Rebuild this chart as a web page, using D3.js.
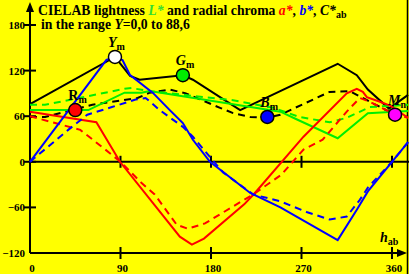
<!DOCTYPE html>
<html>
<head>
<meta charset="utf-8">
<script src="https://cdn.jsdelivr.net/npm/d3@7"></script>
<style>
  html, body { margin: 0; padding: 0; background: #ffff00; }
  svg { display: block; }
  text { font-family: 'Liberation Serif', 'Times New Roman', serif; font-weight: bold; }
</style>
</head>
<body>
<div id="chart"></div>
<script>
// hue angles h_ab and values
const cabSolid = [[0,76],[84.5,138],[99.5,113],[109,108],[152,114],[162,108],[209,68],[306,129],[325,114],[336,95],[357,70],[376,88]];
const cabDashed = [[0,59],[15,59],[62,75],[107,84],[119,91],[139,95],[155,90],[189,71],[202,64],[219,59],[236,58],[249,62],[298,92],[318,93],[338,79],[363,62],[376,60]];
const lSolid = [[0,68],[58,68],[94,91],[111,91],[119,93],[249,66],[265,56],[306,31],[336,64],[376,67]];
const lDashed = [[0,75],[15,75],[94,96],[101,97],[119,93],[202,81],[242,71],[268,59],[298,52],[315,58],[338,72],[376,75]];
const aSolid = [[0,66],[66,52],[89.5,0],[149,-98.5],[161,-109],[173,-101],[213,-56],[223,-42],[272,33],[315,90],[325,96],[331,92],[335,85],[348,79],[358,74],[376,58]];
const aDashed = [[0,60],[25,51],[50,42],[75,16],[90,0],[111,-28],[124,-43],[146,-83],[157,-88],[174,-81],[223,-42],[250,-17],[272,16],[291,29],[315,66],[328,84],[338,79],[363,62],[376,58]];
const bSolid = [[0,0],[76,134],[84.5,138],[92,134],[99.5,114],[122,91],[139,68],[152,51],[162,29],[179,0],[219,-41],[249,-60],[306,-103],[325,-63],[336,-39],[360,0],[376,26]];
const bDashed = [[0,0],[38,42],[57,62],[81.5,72],[105,82],[115,84],[129,68],[152,46],[162,33],[183,0],[192,-14],[222,-43],[249,-52],[275,-66],[298,-76],[315,-72],[328,-50],[336,-34],[360,0],[376,26]];

const markerHue = [45, 84.5, 152, 236, 363];
const markerVal = [68, 138, 114, 59, 62];
const markerFill = ['#ff0000', '#ffffff', '#00ee00', '#0000ff', '#ff00ff'];
const markerName = ['R', 'Y', 'G', 'B', 'M'];
const markerSub = ['m', 'm', 'm', 'm', 'n'];

const xTicks = [0, 90, 180, 270, 360];
const yTicks = [-120, -60, 0, 60, 120, 180];

const width = 409, height = 274;
const x = d3.scaleLinear().domain([0, 360]).range([30, 392]);
const y = d3.scaleLinear().domain([-120, 180]).range([253, 25]);

const svg = d3.select('#chart').append('svg')
  .attr('width', width).attr('height', height);

svg.append('rect').attr('width', width).attr('height', height).attr('fill', '#ffff00');
svg.append('line').attr('x1', 407.5).attr('x2', 407.5).attr('y1', 0).attr('y2', height)
  .attr('stroke', '#000').attr('stroke-width', 1.5);

// axes
svg.append('line').attr('x1', x(0)).attr('x2', x(0)).attr('y1', y(-120)).attr('y2', 8)
  .attr('stroke', '#000').attr('stroke-width', 2);
svg.append('path').attr('d', `M${x(0)},2 L${x(0) - 4},12 L${x(0) + 4},12 Z`).attr('fill', '#000');
svg.append('line').attr('x1', x(0)).attr('x2', 402).attr('y1', y(-120)).attr('y2', y(-120))
  .attr('stroke', '#000').attr('stroke-width', 2);
svg.append('path').attr('d', `M407,${y(-120)} L397,${y(-120) - 4} L397,${y(-120) + 4} Z`).attr('fill', '#000');
svg.append('line').attr('x1', x(0)).attr('x2', width).attr('y1', y(0)).attr('y2', y(0))
  .attr('stroke', '#000').attr('stroke-width', 2);

svg.selectAll('.ytick').data(yTicks.filter(d => d > -120)).enter().append('line')
  .attr('x1', 24).attr('x2', 36).attr('y1', d => y(d)).attr('y2', d => y(d))
  .attr('stroke', '#000').attr('stroke-width', 2);
[0, -120].forEach(base => {
  svg.selectAll('.xtick' + base).data(xTicks.filter(d => d > 0)).enter().append('line')
    .attr('x1', d => x(d)).attr('x2', d => x(d))
    .attr('y1', y(base) - 6).attr('y2', y(base) + 6)
    .attr('stroke', '#000').attr('stroke-width', 2);
});

svg.selectAll('.ylab').data(yTicks).enter().append('text')
  .attr('x', 25).attr('y', d => y(d) + 4).attr('text-anchor', 'end')
  .style('font-size', '11px').text(d => d < 0 ? '\u2212' + Math.abs(d) : d);
svg.selectAll('.xlab').data(xTicks).enter().append('text')
  .attr('x', d => x(d) + 2).attr('y', 272).attr('text-anchor', 'middle')
  .style('font-size', '11px').text(d => d);

const hab = svg.append('text').attr('x', 380).attr('y', 242).style('font-size', '14px');
hab.append('tspan').style('font-style', 'italic').text('h');
hab.append('tspan').attr('dy', 3).style('font-size', '10px').text('ab');

// curves
const line = d3.line().x(d => x(d[0])).y(d => y(d[1]));
const curves = [
  [cabSolid, '#000000', null], [cabDashed, '#000000', '7,5'],
  [lSolid, '#00ee00', null], [lDashed, '#00ee00', '7,5'],
  [aSolid, '#ff0000', null], [aDashed, '#ff0000', '7,5'],
  [bSolid, '#0000ff', null], [bDashed, '#0000ff', '7,5']
];
svg.selectAll('.curve').data(curves).enter().append('path')
  .attr('d', d => line(d[0]))
  .attr('fill', 'none')
  .attr('stroke', d => d[1])
  .attr('stroke-width', 2)
  .attr('stroke-dasharray', d => d[2]);

// markers
svg.selectAll('.marker').data(markerHue).enter().append('circle')
  .attr('cx', d => x(d)).attr('cy', (d, i) => y(markerVal[i]))
  .attr('r', 6.5)
  .attr('fill', (d, i) => markerFill[i])
  .attr('stroke', '#000').attr('stroke-width', 1.5);

markerHue.forEach((h, i) => {
  const t = svg.append('text').attr('x', x(h) - 7).attr('y', y(markerVal[i]) - 10)
    .style('font-size', '14px');
  t.append('tspan').style('font-style', markerName[i] === 'R' ? 'normal' : 'italic').text(markerName[i]);
  t.append('tspan').attr('dy', 3).style('font-size', '10px').text(markerSub[i]);
});

// title
const t1 = svg.append('text').attr('x', 38).attr('y', 15).style('font-size', '13.7px');
t1.append('tspan').text('CIELAB lightness ');
t1.append('tspan').style('font-style', 'italic').attr('fill', '#33dd33').text('L*');
t1.append('tspan').text(' and radial chroma ');
t1.append('tspan').style('font-style', 'italic').attr('fill', '#ff0000').text('a*');
t1.append('tspan').text(', ');
t1.append('tspan').style('font-style', 'italic').attr('fill', '#0000ff').text('b*');
t1.append('tspan').text(', ');
t1.append('tspan').style('font-style', 'italic').text('C*');
t1.append('tspan').attr('dy', 3).style('font-size', '10px').text('ab');

const t2 = svg.append('text').attr('x', 41).attr('y', 28.5).style('font-size', '13.7px');
t2.append('tspan').text('in the range ');
t2.append('tspan').style('font-style', 'italic').text('Y');
t2.append('tspan').text('=0,0 to 88,6');
</script>
</body>
</html>
